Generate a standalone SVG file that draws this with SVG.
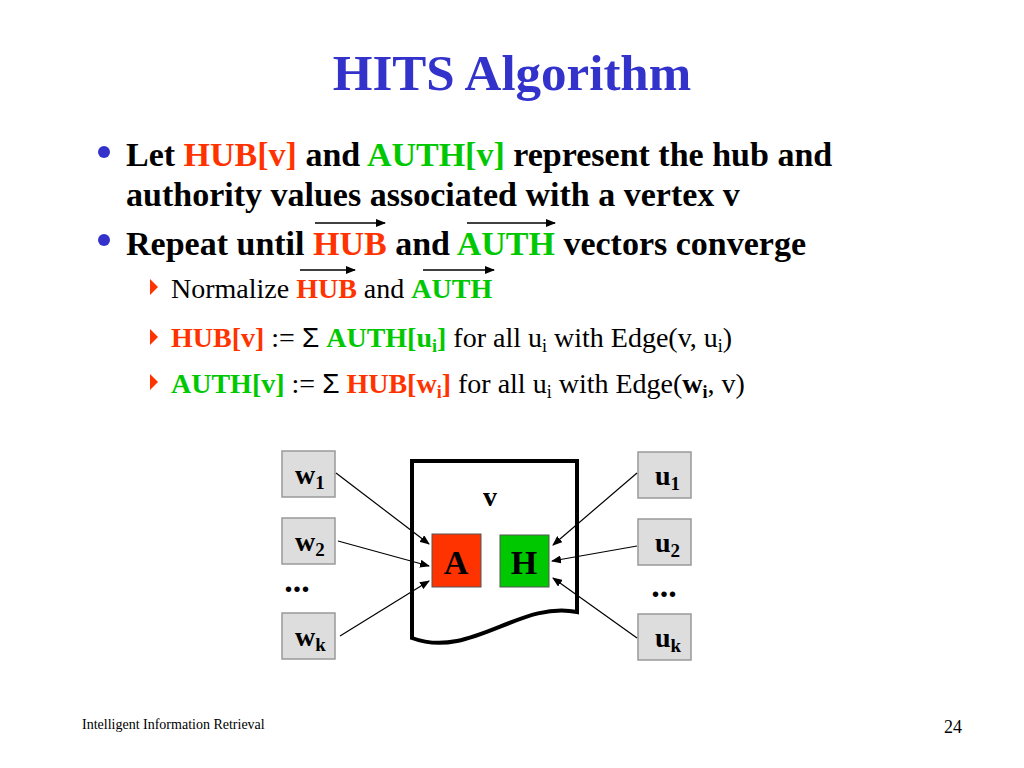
<svg xmlns="http://www.w3.org/2000/svg" width="1024" height="768" viewBox="0 0 1024 768">
<style>
text{font-family:"Liberation Serif","Times New Roman",serif;}
.b{font-weight:bold;font-size:34px;}
.s{font-size:28px;}
.r{fill:#FF3300;font-weight:bold;}
.g{fill:#00C800;font-weight:bold;}
.nb{fill:#DDDDDD;stroke:#999;stroke-width:1.5;}
.nt{font-weight:bold;font-size:28px;}
.c{stroke:#000;stroke-width:1.2;fill:none;marker-end:url(#ah);}
.ov{stroke:#000;stroke-width:1.5;marker-end:url(#oh);}
</style>
<defs>
<marker id="ah" markerWidth="10" markerHeight="8" refX="9" refY="4" orient="auto" markerUnits="userSpaceOnUse"><path d="M0,0 L10,4 L0,8 z" fill="#000"/></marker>
<marker id="oh" markerWidth="10" markerHeight="8" refX="9" refY="4" orient="auto" markerUnits="userSpaceOnUse"><path d="M0,0 L10,4 L0,8 z" fill="#000"/></marker>
</defs>
<rect width="1024" height="768" fill="#fff"/>
<text x="512" y="90" text-anchor="middle" font-size="51" font-weight="bold" fill="#3333CC">HITS Algorithm</text>
<circle cx="104" cy="152" r="6" fill="#3333CC"/>
<circle cx="104" cy="240" r="6" fill="#3333CC"/>
<text x="126" y="166" class="b">Let <tspan class="r">HUB[v]</tspan> and <tspan class="g">AUTH[v]</tspan> represent the hub and</text>
<text x="126" y="206" class="b">authority values associated with a vertex v</text>
<text x="126" y="255" class="b">Repeat until <tspan class="r">HUB</tspan> and <tspan class="g">AUTH</tspan> vectors converge</text>
<line x1="315" y1="223" x2="385" y2="223" class="ov"/>
<line x1="467" y1="223" x2="555" y2="223" class="ov"/>
<path d="M150,279 L158,287 L150,295 z" fill="#FF3300"/>
<path d="M150,329 L158,337 L150,345 z" fill="#FF3300"/>
<path d="M150,374 L158,382 L150,390 z" fill="#FF3300"/>
<text x="171" y="298" class="s">Normalize <tspan class="r">HUB</tspan> and <tspan class="g">AUTH</tspan></text>
<line x1="300" y1="270" x2="355" y2="270" class="ov"/>
<line x1="423" y1="270" x2="494" y2="270" class="ov"/>
<text x="171" y="347" class="s"><tspan class="r">HUB[v]</tspan> := <tspan font-family="Liberation Sans,sans-serif">Σ</tspan> <tspan class="g">AUTH[u<tspan font-size="18" dy="5">i</tspan><tspan dy="-5">]</tspan></tspan> for all u<tspan font-size="18" dy="5">i</tspan><tspan dy="-5"> with Edge(v, u</tspan><tspan font-size="18" dy="5">i</tspan><tspan dy="-5">)</tspan></text>
<text x="171" y="393" class="s"><tspan class="g">AUTH[v]</tspan> := <tspan font-family="Liberation Sans,sans-serif">Σ</tspan> <tspan class="r">HUB[w<tspan font-size="18" dy="5">i</tspan><tspan dy="-5">]</tspan></tspan> for all u<tspan font-size="18" dy="5">i</tspan><tspan dy="-5"> with Edge(</tspan><tspan font-weight="bold">w</tspan><tspan font-weight="bold" font-size="18" dy="5">i</tspan><tspan dy="-5">, v)</tspan></text>
<g id="v">
<path d="M412,461 L577,461 L577,612 C520,600 470,660 412,638 Z" fill="#fff" stroke="#000" stroke-width="4"/>
<text x="490" y="506" text-anchor="middle" class="nt">v</text>
</g>
<g id="A"><rect x="432" y="534" width="49" height="53" fill="#FF3300" stroke="#555"/><text x="456" y="574" text-anchor="middle" font-size="34" font-weight="bold">A</text></g>
<g id="H"><rect x="500" y="535" width="49" height="52" fill="#00C800" stroke="#555"/><text x="524" y="574" text-anchor="middle" font-size="34" font-weight="bold">H</text></g>
<g id="w1"><rect x="282" y="451" width="53" height="46" class="nb"/><text x="295" y="484" class="nt">w<tspan font-size="19" dy="5">1</tspan></text></g>
<g id="w2"><rect x="282" y="518" width="53" height="46" class="nb"/><text x="295" y="551" class="nt">w<tspan font-size="19" dy="5">2</tspan></text></g>
<g id="wk"><rect x="282" y="613" width="53" height="46" class="nb"/><text x="295" y="646" class="nt">w<tspan font-size="19" dy="5">k</tspan></text></g>
<g id="u1"><rect x="638" y="452" width="53" height="46" class="nb"/><text x="655" y="485" class="nt">u<tspan font-size="19" dy="5">1</tspan></text></g>
<g id="u2"><rect x="638" y="519" width="53" height="46" class="nb"/><text x="655" y="552" class="nt">u<tspan font-size="19" dy="5">2</tspan></text></g>
<g id="uk"><rect x="638" y="614" width="53" height="46" class="nb"/><text x="655" y="647" class="nt">u<tspan font-size="19" dy="5">k</tspan></text></g>
<text x="297" y="592" text-anchor="middle" font-size="34" font-weight="bold">...</text>
<text x="664" y="597" text-anchor="middle" font-size="34" font-weight="bold">...</text>
<g id="connectors">
<line x1="336" y1="473" x2="429" y2="544" class="c"/>
<line x1="338" y1="541" x2="429" y2="566" class="c"/>
<line x1="340" y1="636" x2="429" y2="581" class="c"/>
<line x1="637" y1="473" x2="553" y2="545" class="c"/>
<line x1="637" y1="546" x2="552" y2="561" class="c"/>
<line x1="637" y1="638" x2="553" y2="578" class="c"/>
</g>
<text x="82" y="729" font-size="14">Intelligent Information Retrieval</text>
<text x="962" y="733" text-anchor="end" font-size="18">24</text>
</svg>
